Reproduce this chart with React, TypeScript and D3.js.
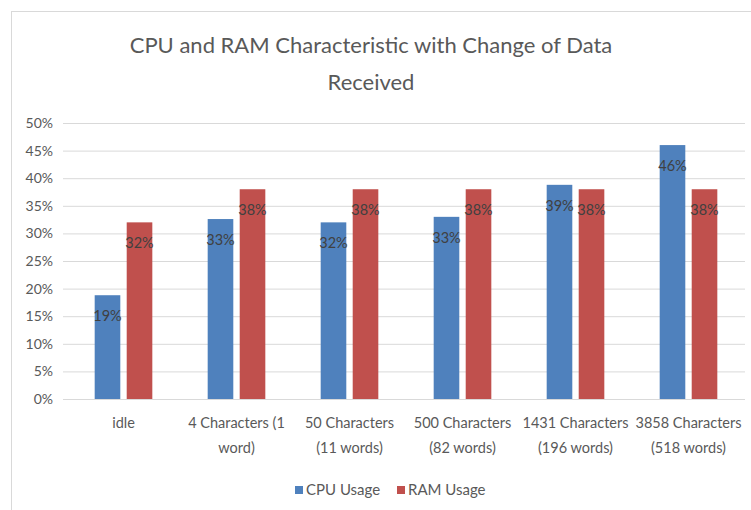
import * as d3 from "d3";

const categories = [
  ["idle"],
  ["4 Characters (1", "word)"],
  ["50 Characters", "(11 words)"],
  ["500 Characters", "(82 words)"],
  ["1431 Characters", "(196 words)"],
  ["3858 Characters", "(518 words)"],
];
const seriesNames = ["CPU Usage", "RAM Usage"];
const cpuUsage = [18.8, 32.6, 32, 33, 38.8, 46];
const ramUsage = [32, 38, 38, 38, 38, 38];
const yTicks = [0, 5, 10, 15, 20, 25, 30, 35, 40, 45, 50];

const colors = ["#4F81BD", "#C0504D"];
const font = "Lato, 'Open Sans', sans-serif";
const textColor = "#595959";

export default function App() {
  const width = 751;
  const height = 510;
  const plot = { left: 67, right: 745, top: 123, bottom: 399 };

  const keys = categories.map((c) => c.join(" "));
  const x0 = d3
    .scaleBand<string>()
    .domain(keys)
    .range([plot.left, plot.right])
    .paddingInner(0.49)
    .paddingOuter(0.245);
  const x1 = d3
    .scaleBand<string>()
    .domain(seriesNames)
    .range([0, x0.bandwidth()])
    .paddingInner(0.2);
  const y = d3.scaleLinear().domain([0, 50]).range([plot.bottom, plot.top]);

  const series = [cpuUsage, ramUsage];

  return (
    <div style={{ position: "absolute", left: 0, top: 0 }}>
      <svg width={width} height={height} style={{ display: "block", background: "#fff" }}>
        <rect x={11.5} y={11.5} width={width + 10} height={height + 10} fill="#fff" stroke="#d9d9d9" />

        <text x={371} y={53} textAnchor="middle" fontFamily={font} fontSize={22} fill={textColor}>
          CPU and RAM Characteristic with Change of Data
        </text>
        <text x={371} y={90} textAnchor="middle" fontFamily={font} fontSize={22} fill={textColor}>
          Received
        </text>

        {yTicks.map((t) => (
          <g key={t}>
            <line x1={plot.left - 4} x2={plot.right} y1={y(t) + 0.5} y2={y(t) + 0.5} stroke="#d9d9d9" />
            <text
              x={53}
              y={y(t) + 5}
              textAnchor="end"
              fontFamily={font}
              fontSize={14}
              fill={textColor}
            >
              {t}%
            </text>
          </g>
        ))}

        {keys.map((k, i) => (
          <g key={k}>
            {series.map((vals, s) => {
              const bx = (x0(k) ?? 0) + (x1(seriesNames[s]) ?? 0);
              const bw = x1.bandwidth();
              return (
                <g key={s}>
                  <rect x={bx} y={y(vals[i])} width={bw} height={y(0) - y(vals[i])} fill={colors[s]} />
                  <text
                    x={bx + bw / 2}
                    y={y(vals[i]) + 26}
                    textAnchor="middle"
                    fontFamily={font}
                    fontSize={14.5}
                    fill="#404040"
                  >
                    {Math.round(vals[i])}%
                  </text>
                </g>
              );
            })}
            {categories[i].map((line, li) => (
              <text
                key={li}
                x={(x0(k) ?? 0) + x0.bandwidth() / 2}
                y={428 + li * 25}
                textAnchor="middle"
                fontFamily={font}
                fontSize={14.5}
                fill={textColor}
              >
                {line}
              </text>
            ))}
          </g>
        ))}

        {seriesNames.map((name, s) => {
          const lx = 295 + s * 102;
          return (
            <g key={name}>
              <rect x={lx} y={486} width={8} height={8} fill={colors[s]} />
              <text x={lx + 11} y={495} fontFamily={font} fontSize={15} fill={textColor}>
                {name}
              </text>
            </g>
          );
        })}
      </svg>
    </div>
  );
}
